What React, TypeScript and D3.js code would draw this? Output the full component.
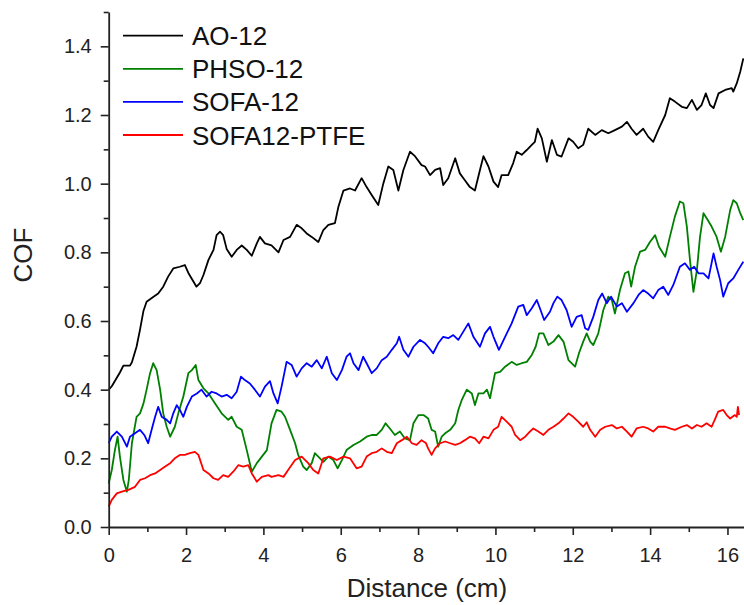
import React, { useEffect, useRef } from "react";
import * as d3 from "d3";

// digitised COF vs distance, [cm, COF]
const ao12: [number, number][] = [
  [0, 0.4], [0.08, 0.41], [0.29, 0.45], [0.38, 0.47], [0.55, 0.47], [0.6, 0.48], [0.72, 0.525], [0.81, 0.575],
  [0.9, 0.63], [0.98, 0.656], [1.15, 0.67], [1.28, 0.68], [1.41, 0.7], [1.54, 0.73], [1.67, 0.753], [1.84, 0.758],
  [1.97, 0.763], [2.06, 0.74], [2.19, 0.715], [2.27, 0.7], [2.36, 0.71], [2.45, 0.734], [2.58, 0.778], [2.71, 0.807],
  [2.79, 0.85], [2.88, 0.86], [2.96, 0.85], [3.05, 0.81], [3.18, 0.787], [3.31, 0.807], [3.44, 0.82], [3.57, 0.807],
  [3.7, 0.79], [3.83, 0.826], [3.91, 0.845], [4.04, 0.826], [4.21, 0.82], [4.39, 0.8], [4.52, 0.836], [4.69, 0.845],
  [4.86, 0.88], [4.99, 0.87], [5.12, 0.855], [5.25, 0.845], [5.42, 0.83], [5.55, 0.865], [5.68, 0.88], [5.85, 0.885],
  [5.94, 0.933], [6.07, 0.98], [6.24, 0.986], [6.37, 0.98], [6.54, 1.016], [6.67, 0.99], [6.8, 0.967], [6.97, 0.938],
  [7.1, 1.0], [7.23, 1.05], [7.36, 1.04], [7.49, 0.98], [7.62, 1.04], [7.79, 1.093], [7.92, 1.08], [8.09, 1.054],
  [8.18, 1.05], [8.31, 1.025], [8.44, 1.04], [8.57, 1.045], [8.65, 0.996], [8.78, 1.016], [8.96, 1.074], [9.08, 1.03],
  [9.21, 1.01], [9.34, 0.99], [9.47, 0.98], [9.6, 1.04], [9.69, 1.08], [9.82, 1.05], [9.95, 1.006], [10.07, 0.99],
  [10.16, 1.025], [10.33, 1.025], [10.46, 1.06], [10.55, 1.093], [10.68, 1.084], [10.81, 1.098], [10.94, 1.113],
  [11.02, 1.122], [11.09, 1.16], [11.2, 1.132], [11.33, 1.064], [11.46, 1.127], [11.59, 1.084], [11.71, 1.079],
  [11.89, 1.132], [12.01, 1.122], [12.14, 1.103], [12.27, 1.113], [12.4, 1.16], [12.58, 1.142], [12.75, 1.156],
  [12.92, 1.147], [13.09, 1.156], [13.27, 1.166], [13.4, 1.18], [13.52, 1.16], [13.65, 1.142], [13.82, 1.16],
  [13.95, 1.137], [14.08, 1.122], [14.21, 1.156], [14.39, 1.2], [14.51, 1.249], [14.64, 1.239], [14.82, 1.224],
  [14.95, 1.22], [15.08, 1.244], [15.21, 1.215], [15.33, 1.229], [15.44, 1.263], [15.55, 1.229], [15.64, 1.22],
  [15.77, 1.263], [15.94, 1.273], [16.11, 1.278], [16.15, 1.268], [16.24, 1.292], [16.33, 1.326], [16.41, 1.365],
];

const phso12: [number, number][] = [
  [0, 0.127], [0.08, 0.166], [0.16, 0.224], [0.23, 0.263], [0.29, 0.205], [0.38, 0.137], [0.47, 0.103], [0.52, 0.137],
  [0.6, 0.244], [0.72, 0.321], [0.81, 0.331], [0.9, 0.36], [0.98, 0.4], [1.07, 0.448], [1.15, 0.477], [1.24, 0.457],
  [1.33, 0.4], [1.41, 0.331], [1.5, 0.292], [1.59, 0.263], [1.71, 0.292], [1.8, 0.331], [1.93, 0.38], [2.06, 0.448],
  [2.15, 0.457], [2.25, 0.472], [2.32, 0.428], [2.45, 0.404], [2.58, 0.389], [2.75, 0.36], [2.92, 0.331], [3.09, 0.312],
  [3.18, 0.321], [3.31, 0.292], [3.44, 0.283], [3.57, 0.224], [3.7, 0.161], [3.83, 0.186], [3.96, 0.205], [4.09, 0.224],
  [4.13, 0.25], [4.21, 0.302], [4.34, 0.341], [4.47, 0.336], [4.56, 0.321], [4.69, 0.283], [4.82, 0.244], [4.9, 0.21],
  [5.03, 0.176], [5.12, 0.166], [5.25, 0.186], [5.33, 0.215], [5.42, 0.205], [5.55, 0.19], [5.68, 0.205], [5.81, 0.195],
  [5.92, 0.171], [6.03, 0.195], [6.15, 0.224], [6.33, 0.239], [6.5, 0.249], [6.67, 0.263], [6.8, 0.268], [6.93, 0.268],
  [7.06, 0.283], [7.16, 0.302], [7.27, 0.287], [7.4, 0.268], [7.53, 0.278], [7.66, 0.258], [7.79, 0.253], [7.88, 0.302],
  [8.01, 0.326], [8.14, 0.326], [8.26, 0.316], [8.35, 0.283], [8.44, 0.278], [8.52, 0.234], [8.61, 0.263], [8.7, 0.273],
  [8.83, 0.283], [8.96, 0.302], [9.04, 0.341], [9.13, 0.37], [9.26, 0.4], [9.39, 0.389], [9.47, 0.355], [9.56, 0.389],
  [9.69, 0.389], [9.78, 0.4], [9.86, 0.375], [9.99, 0.448], [10.12, 0.452], [10.25, 0.467], [10.42, 0.481],
  [10.55, 0.472], [10.68, 0.477], [10.81, 0.481], [10.94, 0.501], [11.04, 0.525], [11.13, 0.564], [11.24, 0.564],
  [11.37, 0.53], [11.5, 0.54], [11.63, 0.559], [11.76, 0.54], [11.89, 0.486], [12.06, 0.467], [12.16, 0.506],
  [12.27, 0.54], [12.36, 0.564], [12.45, 0.54], [12.53, 0.53], [12.66, 0.564], [12.79, 0.632], [12.92, 0.671],
  [13.01, 0.661], [13.09, 0.622], [13.22, 0.69], [13.35, 0.739], [13.44, 0.744], [13.51, 0.7], [13.61, 0.758],
  [13.74, 0.802], [13.87, 0.807], [14.0, 0.831], [14.13, 0.85], [14.23, 0.816], [14.39, 0.787], [14.51, 0.845],
  [14.64, 0.904], [14.77, 0.948], [14.86, 0.943], [14.95, 0.875], [15.03, 0.778], [15.12, 0.685], [15.21, 0.749],
  [15.29, 0.845], [15.38, 0.914], [15.49, 0.894], [15.59, 0.875], [15.72, 0.845], [15.83, 0.802], [15.94, 0.845],
  [16.07, 0.923], [16.15, 0.952], [16.24, 0.943], [16.33, 0.914], [16.41, 0.894],
];

const sofa12: [number, number][] = [
  [0, 0.244], [0.08, 0.263], [0.21, 0.278], [0.34, 0.263], [0.47, 0.234], [0.55, 0.263], [0.68, 0.273], [0.81, 0.283],
  [0.92, 0.268], [1.02, 0.244], [1.11, 0.283], [1.2, 0.321], [1.28, 0.35], [1.37, 0.321], [1.5, 0.312], [1.59, 0.302],
  [1.67, 0.331], [1.76, 0.355], [1.84, 0.341], [1.93, 0.321], [2.02, 0.35], [2.15, 0.38], [2.28, 0.389], [2.4, 0.4],
  [2.53, 0.38], [2.66, 0.394], [2.79, 0.389], [2.92, 0.38], [3.05, 0.385], [3.18, 0.375], [3.31, 0.394], [3.42, 0.438],
  [3.52, 0.428], [3.65, 0.418], [3.78, 0.4], [3.91, 0.38], [4.04, 0.409], [4.17, 0.425], [4.26, 0.389], [4.37, 0.36],
  [4.47, 0.409], [4.6, 0.481], [4.73, 0.472], [4.86, 0.438], [4.99, 0.462], [5.12, 0.477], [5.25, 0.467], [5.38, 0.486],
  [5.51, 0.462], [5.64, 0.496], [5.77, 0.448], [5.9, 0.428], [6.03, 0.457], [6.15, 0.496], [6.24, 0.506], [6.33, 0.477],
  [6.46, 0.457], [6.58, 0.496], [6.67, 0.477], [6.8, 0.448], [6.93, 0.462], [7.06, 0.486], [7.19, 0.496], [7.32, 0.516],
  [7.45, 0.535], [7.51, 0.554], [7.62, 0.516], [7.75, 0.496], [7.88, 0.525], [8.05, 0.545], [8.18, 0.535], [8.26, 0.525],
  [8.39, 0.506], [8.52, 0.535], [8.65, 0.554], [8.78, 0.55], [8.91, 0.559], [9.04, 0.545], [9.17, 0.569], [9.3, 0.593],
  [9.43, 0.554], [9.6, 0.525], [9.73, 0.564], [9.86, 0.583], [9.95, 0.554], [10.09, 0.516], [10.25, 0.554],
  [10.42, 0.593], [10.59, 0.642], [10.72, 0.647], [10.81, 0.617], [10.94, 0.637], [11.07, 0.661], [11.15, 0.637],
  [11.26, 0.603], [11.41, 0.627], [11.5, 0.652], [11.6, 0.671], [11.71, 0.661], [11.84, 0.632], [11.97, 0.583],
  [12.1, 0.612], [12.23, 0.617], [12.32, 0.579], [12.4, 0.574], [12.53, 0.612], [12.66, 0.661], [12.76, 0.68],
  [12.88, 0.652], [12.99, 0.671], [13.14, 0.642], [13.27, 0.652], [13.4, 0.627], [13.57, 0.652], [13.7, 0.676],
  [13.82, 0.69], [13.95, 0.68], [14.08, 0.666], [14.21, 0.69], [14.34, 0.7], [14.47, 0.676], [14.6, 0.705],
  [14.77, 0.758], [14.9, 0.768], [15.03, 0.749], [15.14, 0.758], [15.25, 0.739], [15.38, 0.739], [15.51, 0.724],
  [15.64, 0.797], [15.72, 0.758], [15.81, 0.719], [15.89, 0.671], [16.02, 0.71], [16.15, 0.724], [16.28, 0.749],
  [16.41, 0.773],
];

const sofa12Ptfe: [number, number][] = [
  [0, 0.059], [0.08, 0.079], [0.21, 0.098], [0.34, 0.103], [0.51, 0.108], [0.68, 0.117], [0.81, 0.137], [0.94, 0.142],
  [1.07, 0.151], [1.2, 0.156], [1.33, 0.166], [1.46, 0.176], [1.59, 0.186], [1.71, 0.2], [1.84, 0.21], [1.97, 0.21],
  [2.1, 0.215], [2.23, 0.219], [2.32, 0.21], [2.45, 0.166], [2.58, 0.156], [2.71, 0.142], [2.83, 0.137], [2.96, 0.151],
  [3.09, 0.146], [3.22, 0.161], [3.35, 0.18], [3.48, 0.176], [3.61, 0.18], [3.7, 0.156], [3.83, 0.132], [3.96, 0.146],
  [4.13, 0.151], [4.21, 0.146], [4.39, 0.151], [4.52, 0.146], [4.64, 0.166], [4.82, 0.195], [4.99, 0.205], [5.16, 0.186],
  [5.29, 0.166], [5.42, 0.156], [5.55, 0.2], [5.72, 0.205], [5.9, 0.195], [6.07, 0.205], [6.24, 0.2], [6.41, 0.171],
  [6.54, 0.176], [6.67, 0.205], [6.8, 0.215], [6.93, 0.219], [7.06, 0.229], [7.19, 0.219], [7.32, 0.215], [7.45, 0.244],
  [7.58, 0.253], [7.71, 0.263], [7.84, 0.244], [7.96, 0.239], [8.09, 0.253], [8.2, 0.245], [8.26, 0.229], [8.35, 0.21],
  [8.44, 0.229], [8.57, 0.244], [8.7, 0.249], [8.83, 0.244], [8.96, 0.239], [9.08, 0.244], [9.21, 0.253], [9.34, 0.263],
  [9.47, 0.258], [9.58, 0.244], [9.69, 0.263], [9.82, 0.258], [9.95, 0.283], [10.07, 0.292], [10.16, 0.321],
  [10.29, 0.307], [10.42, 0.292], [10.51, 0.268], [10.64, 0.253], [10.77, 0.263], [10.89, 0.278], [10.98, 0.287],
  [11.11, 0.278], [11.24, 0.268], [11.37, 0.283], [11.5, 0.292], [11.63, 0.302], [11.76, 0.316], [11.89, 0.331],
  [12.01, 0.321], [12.14, 0.307], [12.27, 0.292], [12.36, 0.305], [12.45, 0.283], [12.58, 0.263], [12.71, 0.283],
  [12.84, 0.292], [13.01, 0.297], [13.14, 0.287], [13.27, 0.292], [13.4, 0.278], [13.52, 0.263], [13.65, 0.287],
  [13.82, 0.292], [13.95, 0.287], [14.08, 0.278], [14.21, 0.292], [14.39, 0.292], [14.51, 0.287], [14.64, 0.283],
  [14.82, 0.292], [14.95, 0.297], [15.08, 0.287], [15.21, 0.297], [15.33, 0.292], [15.46, 0.302], [15.59, 0.292],
  [15.67, 0.312], [15.76, 0.336], [15.89, 0.341], [15.98, 0.326], [16.07, 0.316], [16.19, 0.326], [16.24, 0.321],
  [16.27, 0.35], [16.3, 0.326],
];

const seriesNames = ["AO-12", "PHSO-12", "SOFA-12", "SOFA12-PTFE"];
const seriesColors = ["#000000", "#008000", "#0000ff", "#ff0000"];
const xMajorTicks = [0, 2, 4, 6, 8, 10, 12, 14, 16];
const xMinorTicks = [1, 3, 5, 7, 9, 11, 13, 15];
const yMajorTicks = [0, 0.2, 0.4, 0.6, 0.8, 1.0, 1.2, 1.4];
const yMinorTicks = [0.1, 0.3, 0.5, 0.7, 0.9, 1.1, 1.3, 1.5];

const FONT = "'Liberation Sans', Arial, sans-serif";

const App = () => {
  const svgRef = useRef<SVGSVGElement>(null);

  useEffect(() => {
    const svg = d3.select(svgRef.current);
    svg.selectAll("*").remove();

    const x = d3.scaleLinear().domain([0, 16.5]).range([108.7, 746.8]);
    const y = d3.scaleLinear().domain([0, 1.5]).range([527, 12]);

    const allSeries = [ao12, phso12, sofa12, sofa12Ptfe];
    const line = d3
      .line<[number, number]>()
      .x((d) => x(d[0]))
      .y((d) => y(d[1]));

    svg
      .append("g")
      .selectAll("path")
      .data(allSeries)
      .join("path")
      .attr("d", (d) => line(d))
      .attr("fill", "none")
      .attr("stroke", (d, i) => seriesColors[i])
      .attr("stroke-width", 1.8)
      .attr("stroke-linejoin", "round");

    // axes
    const styleAxis = (g) => {
      g.selectAll("path").attr("stroke", "#222").attr("stroke-width", 1.8);
      g.selectAll("line").attr("stroke", "#222").attr("stroke-width", 1.6);
      g.selectAll("text").attr("fill", "#222").style("font-family", FONT).style("font-size", "20px");
    };

    const xg = svg.append("g").attr("transform", "translate(0,527)");
    xg.call(
      d3.axisBottom(x).tickValues(xMajorTicks).tickSize(8).tickSizeOuter(0).tickPadding(12.5).tickFormat(d3.format("d"))
    );
    xg.call(styleAxis);
    svg
      .append("g")
      .attr("transform", "translate(0,527)")
      .call(d3.axisBottom(x).tickValues(xMinorTicks).tickSize(5).tickFormat(() => ""))
      .call((g) => g.select(".domain").remove())
      .call(styleAxis);

    const yg = svg.append("g").attr("transform", "translate(108.7,0)");
    yg.call(
      d3.axisLeft(y).tickValues(yMajorTicks).tickSize(8).tickSizeOuter(0).tickPadding(9).tickFormat(d3.format(".1f"))
    );
    yg.call(styleAxis);
    svg
      .append("g")
      .attr("transform", "translate(108.7,0)")
      .call(d3.axisLeft(y).tickValues(yMinorTicks).tickSize(5).tickFormat(() => ""))
      .call((g) => g.select(".domain").remove())
      .call(styleAxis);

    // axis titles
    svg
      .append("text")
      .attr("x", 427)
      .attr("y", 597)
      .attr("text-anchor", "middle")
      .style("font-family", FONT)
      .style("font-size", "26px")
      .attr("fill", "#222")
      .text("Distance (cm)");

    svg
      .append("text")
      .attr("transform", "translate(32,255) rotate(-90)")
      .attr("text-anchor", "middle")
      .style("font-family", FONT)
      .style("font-size", "26px")
      .attr("fill", "#222")
      .text("COF");

    // legend
    const legend = svg
      .append("g")
      .selectAll("g")
      .data(seriesNames)
      .join("g")
      .attr("transform", (d, i) => `translate(0,${35.7 + i * 33.1})`);
    legend
      .append("line")
      .attr("x1", 123)
      .attr("x2", 183)
      .attr("stroke", (d, i) => seriesColors[i])
      .attr("stroke-width", 1.8);
    legend
      .append("text")
      .attr("x", 192)
      .attr("y", 9.5)
      .style("font-family", FONT)
      .style("font-size", "26px")
      .attr("fill", "#111")
      .text((d) => d);
  }, []);

  return (
    <svg
      ref={svgRef}
      width={744}
      height={605}
      style={{ position: "absolute", left: 0, top: 0, background: "white" }}
    />
  );
};

export default App;
